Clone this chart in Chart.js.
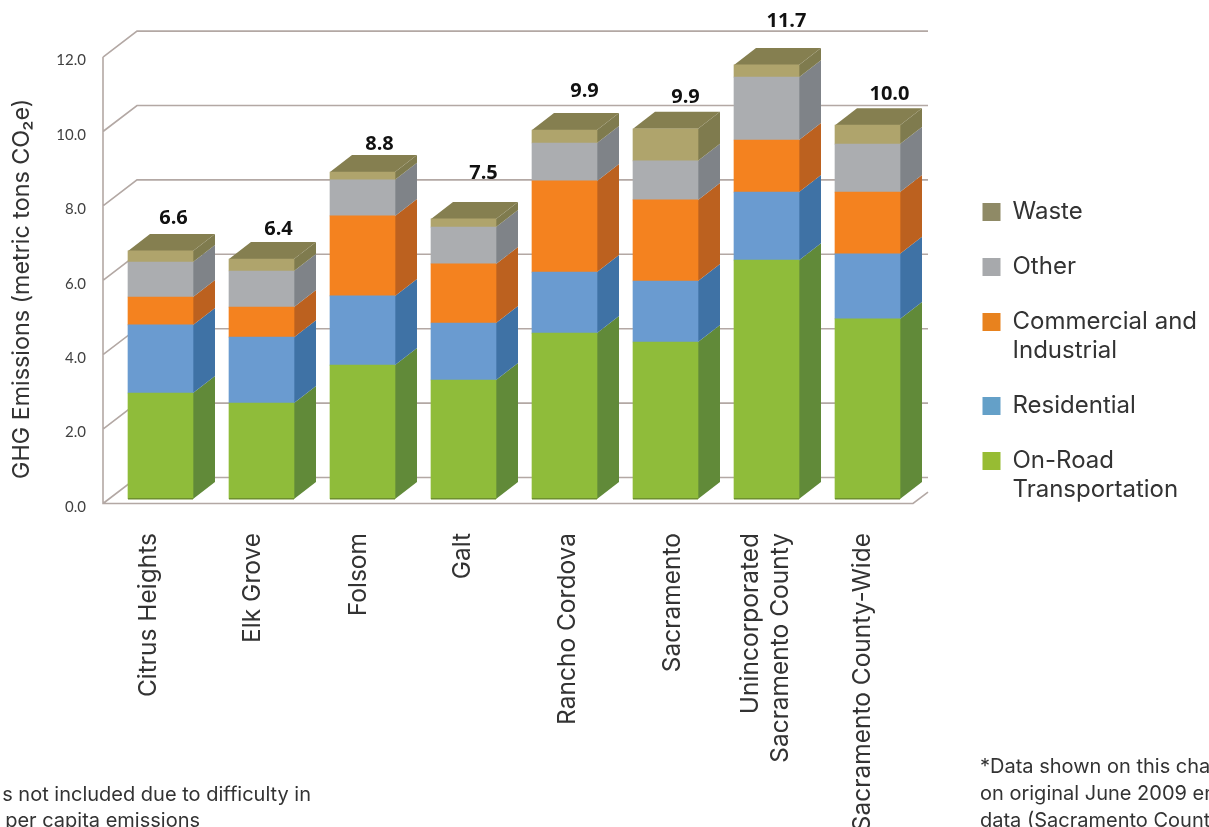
<!DOCTYPE html>
<html><head><meta charset="utf-8">
<style>html,body{margin:0;padding:0;background:#fff}canvas{display:block}</style>
<script src="https://cdn.jsdelivr.net/npm/chart.js@4"></script>
</head><body>
<div style="width:1209px;height:827px"><canvas id="c" width="1209" height="827"></canvas></div>
<script>
const categories = ["Citrus Heights","Elk Grove","Folsom","Galt","Rancho Cordova","Sacramento",["Unincorporated","Sacramento County"],"Sacramento County-Wide"];
const onRoad      = [2.85,2.58,3.60,3.20,4.46,4.22,6.42,4.84];
const residential = [1.83,1.77,1.86,1.53,1.64,1.64,1.83,1.75];
const commercial  = [0.75,0.81,2.15,1.59,2.45,2.18,1.40,1.66];
const other       = [0.94,0.97,0.97,0.99,1.02,1.05,1.69,1.29];
const waste       = [0.30,0.32,0.21,0.22,0.35,0.86,0.33,0.51];
const totals      = ["6.6","6.4","8.8","7.5","9.9","9.9","11.7","10.0"];
const yTicks      = [0,2,4,6,8,10,12];

// presentation only
const AREA = {left:110,right:918,top:52.6,bottom:499};
const BAR_DX=22, BAR_DY=17, WALL_DX=34, WALL_DY=26, FRONT_X=103, FRONT_DROP=4.5, CROP_X=928;
const totalNudge=[[13,-33],[17,-30],[17,-28],[20,-46],[20,-39],[20,-32],[20,-44],[22,-31]];
const catNudge=[-12,-9,-4,-1,3,7,-16,-5];
const sideCol=["#618A39","#3F72A5","#BC611F","#7F8388","#7F7B4E"];
const topCol="#857F50";
const FONT="Inter, sans-serif", INK="#333333";

const scene={
  id:'scene',
  beforeLayout(chart){
    const l=chart.legend;
    if(l && !l._w){ l._w=1; const f=l.fit; l.fit=function(){f.call(this); this.width=1209-AREA.right;}; }
  },
  afterLayout(chart){
    const l=chart.legend; const p=l.options.labels.padding;
    l.left=982.5-p; l.right=1209; l.top=200-p; l.bottom=520;
  },
  beforeDatasetsDraw(chart){
    const c=chart.ctx, y=chart.scales.y;
    c.save(); c.strokeStyle="#B3A8A4"; c.lineWidth=1.6; c.beginPath();
    yTicks.forEach(v=>{
      const py=y.getPixelForValue(v)+FRONT_DROP;
      c.moveTo(FRONT_X,py); c.lineTo(FRONT_X+WALL_DX,py-WALL_DY); c.lineTo(CROP_X,py-WALL_DY);
    });
    const y0=y.getPixelForValue(0)+FRONT_DROP, y12=y.getPixelForValue(12)+FRONT_DROP;
    c.moveTo(FRONT_X,y12); c.lineTo(FRONT_X,y0); c.lineTo(CROP_X-15,y0);
    c.lineTo(CROP_X,y0-15*WALL_DY/WALL_DX);
    c.stroke();
    // depth faces of the stacked bars
    chart.data.datasets.forEach((d,i)=>{
      chart.getDatasetMeta(i).data.forEach(b=>{
        const r=b.x+b.width/2;
        c.fillStyle=sideCol[i]; c.beginPath();
        c.moveTo(r,b.y); c.lineTo(r+BAR_DX,b.y-BAR_DY); c.lineTo(r+BAR_DX,b.base-BAR_DY); c.lineTo(r,b.base); c.closePath(); c.fill();
        if(i===chart.data.datasets.length-1){
          const l=b.x-b.width/2;
          c.fillStyle=topCol; c.beginPath();
          c.moveTo(l,b.y); c.lineTo(l+BAR_DX,b.y-BAR_DY); c.lineTo(r+BAR_DX,b.y-BAR_DY); c.lineTo(r,b.y); c.closePath(); c.fill();
        }
      });
    });
    c.restore();
  },
  afterDatasetsDraw(chart){
    const c=chart.ctx;
    c.save(); c.fillStyle="#6E8F30";
    chart.getDatasetMeta(0).data.forEach(b=>c.fillRect(b.x-b.width/2,b.base-1,b.width,1.5));
    c.restore();
  },
  afterDraw(chart){
    const c=chart.ctx, n=chart.data.datasets.length-1;
    c.save();
    c.fillStyle="#111"; c.font="bold 20px 'Open Sans', sans-serif"; c.textAlign="center"; c.textBaseline="middle";
    chart.getDatasetMeta(n).data.forEach((b,i)=>c.fillText(totals[i],b.x+totalNudge[i][0],b.y+totalNudge[i][1]));
    c.fillStyle=INK; c.font="20px "+FONT; c.textBaseline="alphabetic";
    c.textAlign="right";
    c.fillText("s not included due to difficulty in",311,801);
    c.fillText("per capita emissions",200,827);
    c.textAlign="left";
    c.fillText("*Data shown on this chart",980,773);
    c.fillText("on original June 2009 emissions",980,800);
    c.fillText("data (Sacramento County",980,827);
    c.restore();
  }
};

new Chart(document.getElementById('c'),{
  type:'bar',
  data:{labels:categories,datasets:[
    {label:"On-Road Transportation",data:onRoad,backgroundColor:"#8FBC3A"},
    {label:"Residential",data:residential,backgroundColor:"#6A9BD0"},
    {label:"Commercial and Industrial",data:commercial,backgroundColor:"#F4821F"},
    {label:"Other",data:other,backgroundColor:"#ABADB0"},
    {label:"Waste",data:waste,backgroundColor:"#AFA46C"}
  ]},
  options:{
    responsive:false,animation:false,
    layout:{padding:{left:0,right:0,top:AREA.top,bottom:0}},
    datasets:{bar:{barThickness:65}},
    scales:{
      x:{stacked:true,grid:{display:false,drawTicks:false},border:{display:false},
        afterFit(s){s.height=827-AREA.bottom;},
        afterBuildTicks(s){
          const o=s.constructor.prototype.getPixelForTick;
          s.getPixelForTick=function(i){return o.call(this,i)+catNudge[i];};
        },
        ticks:{autoSkip:false,minRotation:90,maxRotation:90,padding:34,color:INK,font:{family:FONT,size:24.5,lineHeight:30/24.5}}},
      y:{stacked:true,min:0,max:12,grid:{display:false,drawTicks:false},border:{display:false},
        afterFit(s){
          s.width=AREA.left;
          if(!s._t){s._t=1;const d=s.drawTitle;s.drawTitle=function(){const c=this.ctx;c.save();c.translate(0,13);d.call(this);c.restore();};}
        },
        afterBuildTicks(s){s.ticks=yTicks.map(v=>({value:v}));},
        title:{display:true,text:"GHG Emissions (metric tons CO₂e)",color:INK,font:{family:FONT,size:23.3},padding:{top:8,bottom:0}},
        ticks:{padding:24,labelOffset:8,color:"#404040",font:{family:"Lato, sans-serif",size:15},callback:v=>v.toFixed(1)}}
    },
    plugins:{
      tooltip:{enabled:false},
      legend:{position:'right',align:'start',reverse:true,
        labels:{boxWidth:18,boxHeight:18,padding:26,color:INK,font:{family:FONT,size:24,lineHeight:29/24},
          generateLabels(){
            const names=[["On-Road","Transportation"],["Residential"],["Commercial and","Industrial"],["Other"],["Waste"]];
            const cols=["#97BC33","#64A0C8","#E8821E","#A7A9AC","#8F8A66"];
            return names.map((t,i)=>({text:t,fillStyle:cols[i],strokeStyle:cols[i],lineWidth:0,datasetIndex:i,fontColor:INK}));
          }}}
    }
  },
  plugins:[scene]
});
</script></body></html>
